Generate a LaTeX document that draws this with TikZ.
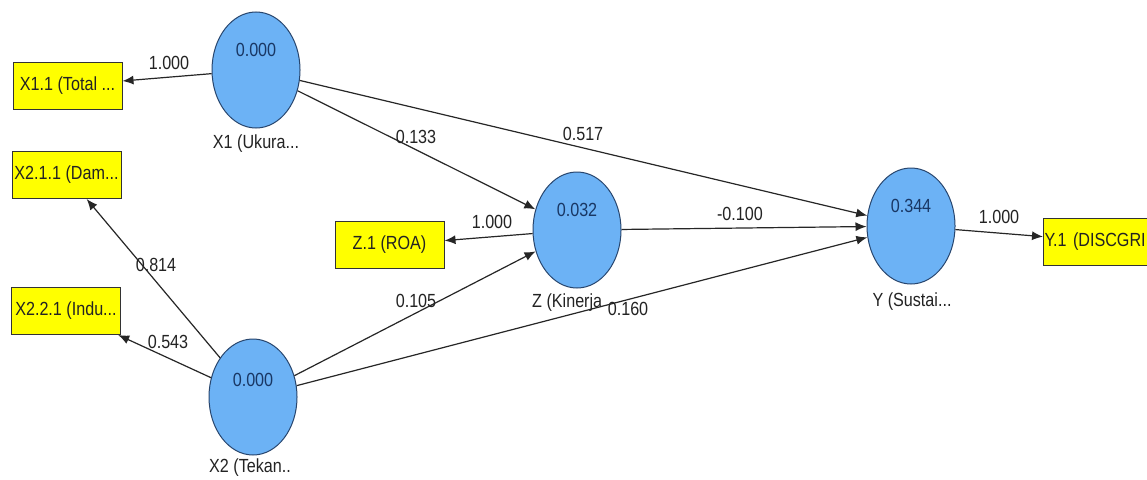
\documentclass[tikz,border=0pt]{standalone}
\usepackage{fontspec}
\setmainfont{Liberation Sans}[FakeStretch=0.85]
\usetikzlibrary{shapes.geometric,arrows.meta}
\definecolor{lvfill}{RGB}{108,178,245}
\definecolor{lvdraw}{RGB}{40,70,110}
\definecolor{valtxt}{RGB}{25,55,100}
\definecolor{boxfill}{RGB}{255,255,0}
\definecolor{inktxt}{RGB}{35,35,35}
\begin{document}
\begin{tikzpicture}[x=1pt,y=-1pt,
  font=\fontsize{19}{21}\selectfont,
  latent/.style={ellipse, draw=lvdraw, line width=1pt, fill=lvfill,
    minimum width=88pt, minimum height=116pt, inner sep=0pt},
  manifest/.style={rectangle, draw=black!80, line width=1pt, fill=boxfill,
    minimum width=109pt, minimum height=47pt, inner sep=1pt, text=inktxt},
  lbl/.style={inner sep=0pt, text=inktxt},
  val/.style={inner sep=0pt, text=valtxt},
  relpath/.style={draw=black!85, line width=1.2pt, -{Latex[length=11pt,width=9pt]}}]
\useasboundingbox (0,0) rectangle (1147,479);
\clip (0,0) rectangle (1147,479);
\fill[white] (0,0) rectangle (1147,479);

% latent variables
\node[latent] (X1) at (256,70) {};
\node[latent] (X2) at (253,397) {};
\node[latent] (Z)  at (577,230) {};
\node[latent] (Y)  at (911,226) {};

% indicators
\node[manifest] (X11)  at (67.5,85.5) {X1.1 (Total ...};
\node[manifest] (X211) at (66.5,175) {X2.1.1 (Dam...};
\node[manifest] (X221) at (66,311) {X2.2.1 (Indu...};
\node[manifest] (Z1)   at (389.5,245) {Z.1 (ROA)};
\node[manifest, anchor=west, minimum width=0pt, text width=118pt, align=left] (Y1) at (1043,241.5) {Y.1 (DISCGRI};

% connectors
\draw[relpath] (X1) -- (X11);
\draw[relpath] (X1) -- (Z);
\draw[relpath] (X1) -- (Y);
\draw[relpath] (X2) -- (X211);
\draw[relpath] (X2) -- (X221);
\draw[relpath] (X2) -- (Z);
\draw[relpath] (X2) -- (Y);
\draw[relpath] (Z) -- (Z1);
\draw[relpath] (Z) -- (Y);
\draw[relpath] (Y) -- (Y1);

% values inside latent variables
\node[val] (vX1) at (256,50) {0.000};
\node[val] (vX2) at (253,380) {0.000};
\node[val] (vZ)  at (577,210) {0.032};
\node[val] (vY)  at (911,206) {0.344};

% names of latent variables
\node[lbl] (nX1) at (256,144) {X1 (Ukura...};
\node[lbl] (nX2) at (250,468) {X2 (Tekan..};
\node[lbl, anchor=west] (nZ) at (532,303) {Z (Kinerja};
\node[lbl] (nY)  at (912,302) {Y (Sustai...};

% path coefficients / loadings
\node[lbl] (c1) at (169,63) {1.000};
\node[lbl] (c2) at (416,137) {0.133};
\node[lbl] (c3) at (583,134) {0.517};
\node[lbl] (c4) at (492,222) {1.000};
\node[lbl] (c5) at (740,214) {-0.100};
\node[lbl] (c6) at (999,217) {1.000};
\node[lbl] (c7) at (156,265) {0.814};
\node[lbl] (c8) at (168,342) {0.543};
\node[lbl] (c9) at (416,301) {0.105};
\node[lbl] (c10) at (628,309) {0.160};
\end{tikzpicture}
\end{document}
